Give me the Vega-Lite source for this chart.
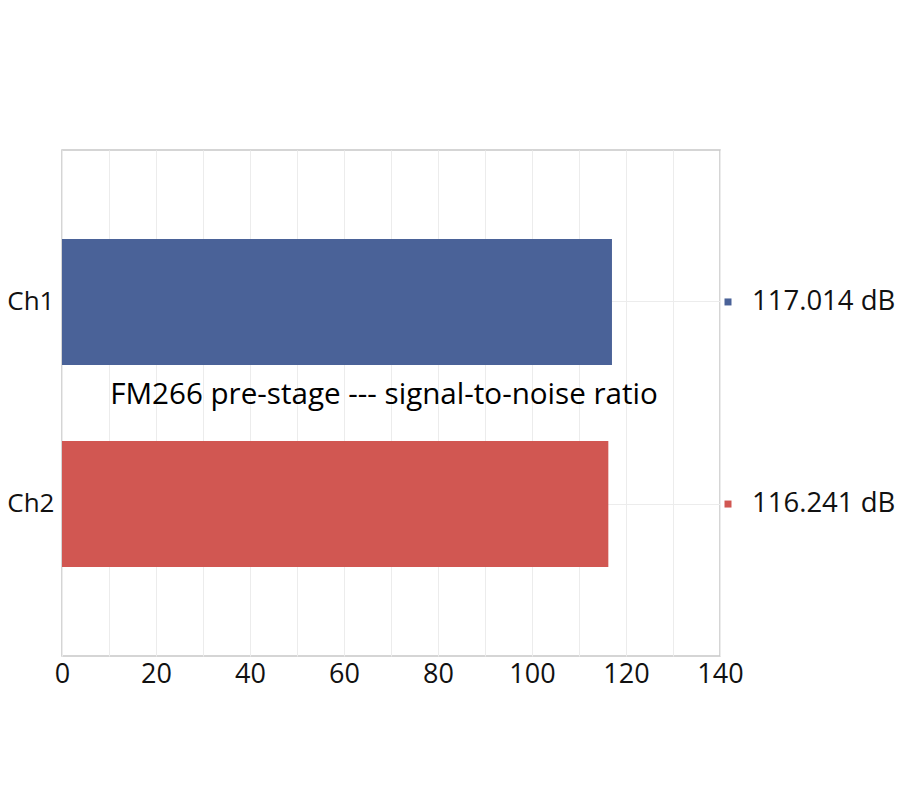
{
  "$schema": "https://vega.github.io/schema/vega-lite/v6.json",
  "description": "FM266 pre-stage signal-to-noise ratio, Ch1 vs Ch2",
  "width": 658,
  "height": 506,
  "autosize": {"type": "none"},
  "padding": {"left": 62, "top": 150, "right": 180, "bottom": 144},
  "background": "white",
  "config": {
    "font": "Open Sans",
    "view": {"stroke": "#c8c8c8", "strokeWidth": 1.5},
    "axis": {"labelFont": "Open Sans", "labelColor": "#111", "gridColor": "#ececec", "gridWidth": 1}
  },
  "title": {
    "text": "FM266 pre-stage --- signal-to-noise ratio",
    "orient": "top",
    "anchor": "middle",
    "offset": -261,
    "fontSize": 29.6,
    "fontWeight": "normal",
    "color": "#000",
    "dx": -7
  },
  "data": {
    "values": [
      {"Channel": "Ch1", "snr": 117.014},
      {"Channel": "Ch2", "snr": 116.241}
    ]
  },
  "transform": [
    {"calculate": "format(datum.snr, '.3f') + ' dB'", "as": "label"}
  ],
  "encoding": {
    "y": {
      "field": "Channel",
      "type": "nominal",
      "scale": {"paddingInner": 0.376, "paddingOuter": 0.44},
      "axis": {
        "title": null,
        "labelFontSize": 26,
        "labelPadding": 8,
        "ticks": false,
        "domain": false,
        "grid": true,
        "bandPosition": 0.5
      }
    },
    "color": {
      "field": "Channel",
      "type": "nominal",
      "scale": {"domain": ["Ch1", "Ch2"], "range": ["#4a6298", "#d15752"]},
      "legend": null
    }
  },
  "layer": [
    {
      "mark": {"type": "bar", "opacity": 1},
      "encoding": {
        "x": {
          "field": "snr",
          "type": "quantitative",
          "scale": {"domain": [0, 140], "nice": false},
          "axis": {
            "title": null,
            "values": [0, 10, 20, 30, 40, 50, 60, 70, 80, 90, 100, 110, 120, 130, 140],
            "labelExpr": "datum.value % 20 == 0 ? datum.label : ''",
            "labelFontSize": 27,
            "labelPadding": 5,
            "labelFlush": false,
            "ticks": false,
            "domain": false,
            "grid": true
          }
        }
      }
    },
    {
      "mark": {"type": "point", "shape": "square", "filled": true, "size": 49, "xOffset": 8, "opacity": 1},
      "encoding": {
        "x": {"datum": 140, "type": "quantitative"}
      }
    },
    {
      "mark": {"type": "text", "align": "left", "baseline": "middle", "dx": 32, "fontSize": 27.5},
      "encoding": {
        "x": {"datum": 140, "type": "quantitative"},
        "text": {"field": "label"},
        "color": {"value": "#111"}
      }
    }
  ]
}
